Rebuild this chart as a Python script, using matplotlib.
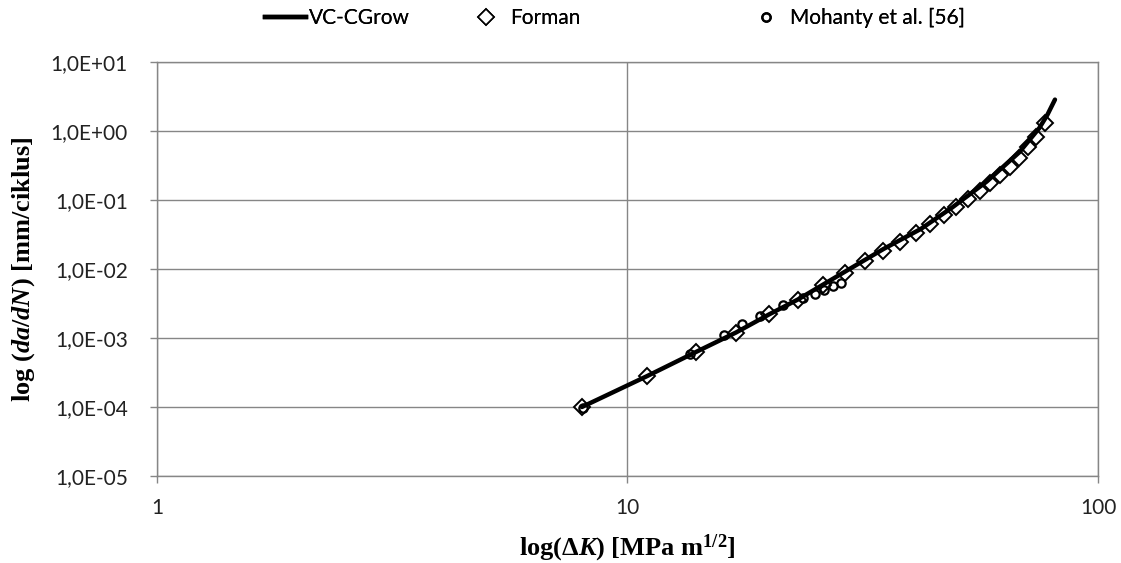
import matplotlib
matplotlib.use("Agg")
import matplotlib.pyplot as plt
from matplotlib.lines import Line2D
from matplotlib.ticker import FixedLocator, FuncFormatter, NullLocator

# ----------------------------------------------------
# Data
# ----------------------------------------------------
# VC-CGrow model curve
vc_dk = [8, 11, 14, 17, 20, 23, 26, 30, 35, 42, 49, 58, 68, 75, 78, 81]
vc_dadn = [1.0e-4, 2.8e-4, 6.3e-4, 1.2e-3, 2.2e-3, 3.6e-3, 5.9e-3, 1.05e-2,
           1.95e-2, 3.8e-2, 7.8e-2, 1.85e-1, 4.9e-1, 1.1, 1.7, 2.85]

# Forman equation
forman_dk = [8, 11, 14, 17, 20, 23, 26, 29, 32, 35, 38, 41, 44, 47, 50,
             53, 56, 59, 62, 65, 68, 71, 74, 77]
forman_dadn = [1.0e-4, 2.8e-4, 6.3e-4, 1.2e-3, 2.2e-3, 3.6e-3, 5.8e-3, 8.8e-3,
               1.3e-2, 1.8e-2, 2.5e-2, 3.3e-2, 4.5e-2, 6.0e-2, 8.0e-2,
               1.05e-1, 1.35e-1, 1.75e-1, 2.3e-1, 3.0e-1, 4.1e-1, 5.8e-1,
               8.3e-1, 1.3]

# Mohanty et al. [56] experimental data
moh_dk = [8.05, 13.6, 16.0, 17.5, 19.1, 21.4, 23.6, 25.0, 26.2, 27.3, 28.4]
moh_dadn = [9.7e-5, 5.9e-4, 1.1e-3, 1.6e-3, 2.1e-3, 3.0e-3, 3.8e-3, 4.4e-3,
            5.0e-3, 5.6e-3, 6.3e-3]

y_ticks = [1e-5, 1e-4, 1e-3, 1e-2, 1e-1, 1e0, 1e1]
x_ticks = [1, 10, 100]

# ----------------------------------------------------
# Style
# ----------------------------------------------------
plt.rcParams["font.family"] = ["Lato", "DejaVu Sans"]
plt.rcParams["mathtext.fontset"] = "custom"
plt.rcParams["mathtext.rm"] = "Liberation Serif:bold"
plt.rcParams["mathtext.it"] = "Liberation Serif:bold:italic"
plt.rcParams["mathtext.bf"] = "Liberation Serif:bold"

grid_col = "#868686"

fig = plt.figure(figsize=(11.21, 5.63), dpi=100)
ax = fig.add_axes([0.140, 0.1545, 0.8395, 0.7354])

ax.plot(vc_dk, vc_dadn, color="black", lw=3.2, zorder=4,
        solid_capstyle="round")
ax.plot(forman_dk, forman_dadn, ls="none", marker="D", ms=8.5,
        mfc="white", mec="black", mew=1.4, zorder=3)
ax.plot(moh_dk, moh_dadn, ls="none", marker="o", ms=6,
        mfc="none", mec="black", mew=1.6, zorder=3.5)

ax.set_xscale("log")
ax.set_yscale("log")
ax.set_xlim(1, 100)
ax.set_ylim(1e-5, 1e1)

ax.xaxis.set_major_locator(FixedLocator(x_ticks))
ax.xaxis.set_minor_locator(NullLocator())
ax.yaxis.set_major_locator(FixedLocator(y_ticks))
ax.yaxis.set_minor_locator(NullLocator())
ax.xaxis.set_major_formatter(FuncFormatter(lambda v, p: f"{v:g}"))


def sci_comma(v, p):
    s = f"{v:.1E}"
    mant, exp = s.split("E")
    return f"{mant.replace('.', ',')}E{exp[0]}{int(exp[1:]):02d}"


ax.yaxis.set_major_formatter(FuncFormatter(sci_comma))

ax.grid(True, which="major", color=grid_col, lw=1.0)
ax.set_axisbelow(True)
for s in ax.spines.values():
    s.set_color(grid_col)
    s.set_linewidth(1.0)
ax.tick_params(axis="both", which="major", colors=grid_col, length=5,
               width=1.0, labelsize=15, labelcolor="#222222")
ax.tick_params(axis="x", pad=11)
ax.tick_params(axis="y", pad=16)

ax.set_xlabel(r"log($\Delta K$) [MPa m$^{\mathrm{1/2}}$]",
              fontsize=19, family="Liberation Serif", weight="bold",
              va="center")
ax.set_ylabel(r"log ($da/dN$) [mm/ciklus]", fontsize=19,
              family="Liberation Serif", weight="bold", va="center")
ax.xaxis.set_label_coords(0.5, -(548 - 476) / 414)
ax.yaxis.set_label_coords(-(157 - 24) / 941, 0.5)

# ----------------------------------------------------
# Legend (three entries spread along the top, Excel style)
# ----------------------------------------------------
entries = [
    (Line2D([], [], color="black", lw=3.2), "VC-CGrow", 265 / 1121),
    (Line2D([], [], ls="none", marker="D", ms=8.5, mfc="white", mec="black",
            mew=1.2), "Forman", 466 / 1121),
    (Line2D([], [], ls="none", marker="o", ms=6, mfc="none", mec="black",
            mew=1.6), "Mohanty et al. [56]", 746 / 1121),
]
for handle, text, xpos in entries:
    leg = fig.legend([handle], [text], loc="center left",
                     bbox_to_anchor=(xpos, 1 - 18 / 563), frameon=False,
                     fontsize=15, handlelength=1.95, handletextpad=0.15,
                     borderpad=0, borderaxespad=0)
    fig.add_artist(leg)

fig.savefig("out.png", dpi=100)
